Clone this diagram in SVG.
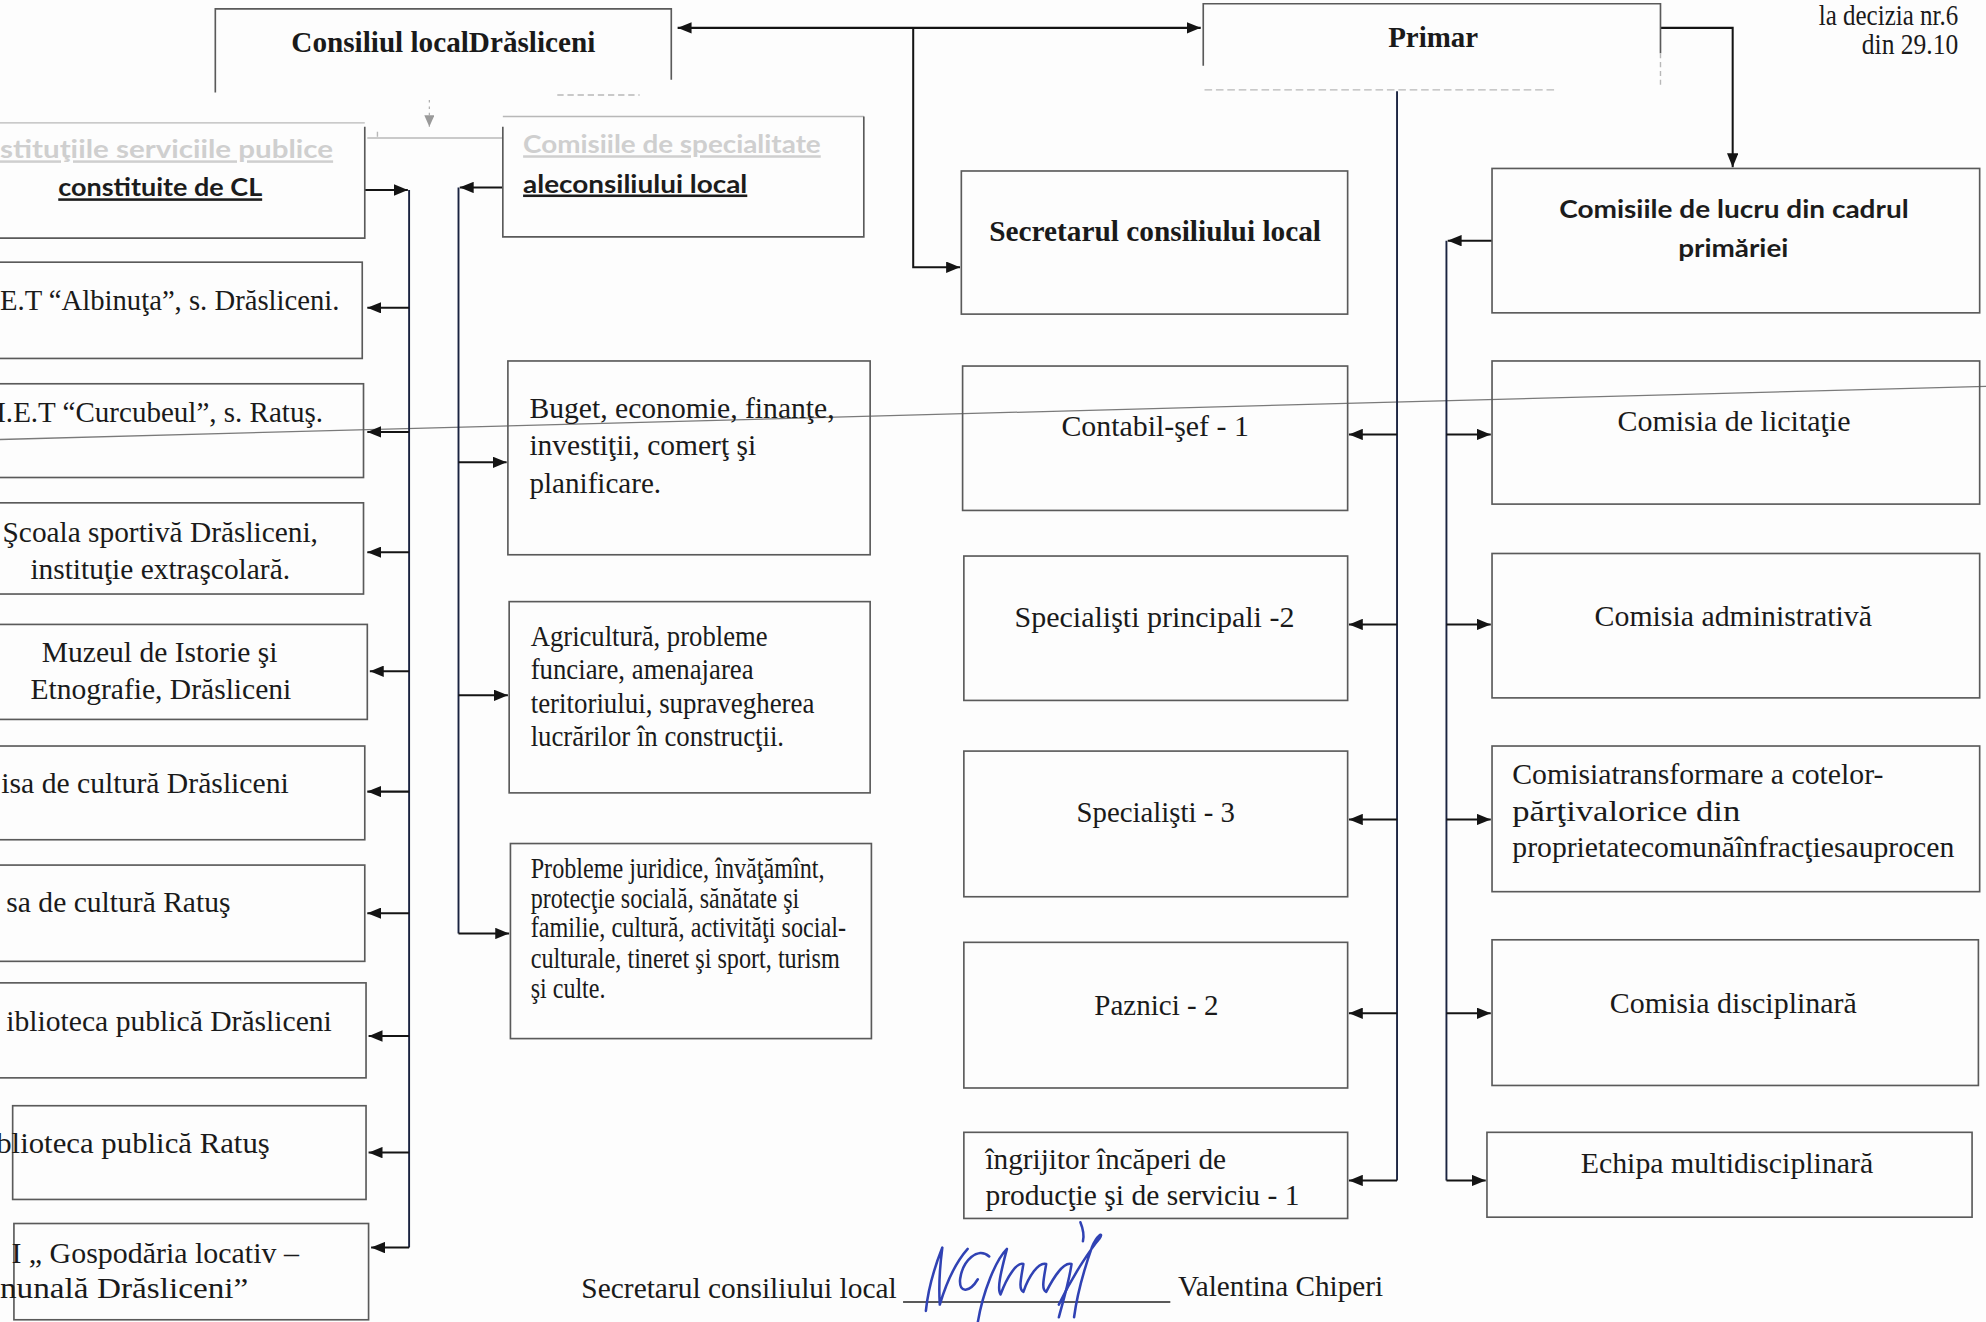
<svg xmlns="http://www.w3.org/2000/svg" width="1986" height="1322" viewBox="0 0 1986 1322">
<style>
.box{fill:none;stroke:#5a5a5a;stroke-width:1.3}
.fb{fill:none;stroke:#b8b8b8;stroke-width:1.1}
.t{font-family:"Liberation Serif","Times New Roman",serif;font-size:23px;fill:#1a1a1a}
.b{font-weight:bold}
.s{font-family:Lato,"Liberation Sans",sans-serif;font-weight:bold;font-size:20px;fill:#1c1c1c}
.u{text-decoration:underline}
.fa{fill:#cfcfcf}
.c{fill:none;stroke:#141414;stroke-width:1.6}
.sp{fill:none;stroke:#1a2340;stroke-width:1.5}
.ar{marker-end:url(#ah)}
.sig{fill:none;stroke:#3042b4;stroke-width:2;stroke-linecap:round;stroke-linejoin:round}
</style>
<defs>
<marker id="ah" markerUnits="userSpaceOnUse" markerWidth="11" markerHeight="9" refX="11" refY="4.5" orient="auto-start-reverse" viewBox="0 0 11 9"><path d="M0,0 L11,4.5 L0,9 z" fill="#141414"/></marker>
<marker id="ahf" markerUnits="userSpaceOnUse" markerWidth="9" markerHeight="8" refX="9" refY="4" orient="auto" viewBox="0 0 9 8"><path d="M0,0 L9,4 L0,8 z" fill="#9a9a9a"/></marker>
</defs>
<rect x="0" y="0" width="1986" height="1322" fill="#fdfdfd"/>
<g transform="scale(1.26658)">

<g id="artifacts">
<line x1="0" y1="347" x2="1568" y2="305" stroke="#7a7a7a" stroke-width="1"/>
<path d="M339,79 V100" fill="none" stroke="#b0b0b0" stroke-width="1" stroke-dasharray="2,3" marker-end="url(#ahf)"/>
<path d="M290,109 H397" class="fb"/>
<path d="M298,104 V108" class="fb"/>
<path d="M951,71 H1230" class="fb" stroke-dasharray="6,3"/>
<path d="M440,75 H505" class="fb" stroke-dasharray="5,3"/>
</g>

<g id="connectors">
<path class="c ar" d="M535,22 H948" marker-start="url(#ah)"/>
<path class="c ar" d="M721,22 V211 H758"/>
<path class="c ar" d="M1311,22 H1368 V132"/>
<path class="sp" d="M1103,72 V932"/>
<path class="c ar" d="M1103,343 H1065"/>
<path class="c ar" d="M1103,493 H1065"/>
<path class="c ar" d="M1103,647 H1065"/>
<path class="c ar" d="M1103,800 H1065"/>
<path class="c ar" d="M1103,932 H1065"/>
<path class="sp" d="M1142,190 V932"/>
<path class="c ar" d="M1178,190 H1143"/>
<path class="c ar" d="M1142,343 H1177"/>
<path class="c ar" d="M1142,493 H1177"/>
<path class="c ar" d="M1142,647 H1177"/>
<path class="c ar" d="M1142,800 H1177"/>
<path class="c ar" d="M1142,932 H1173"/>
<path class="c ar" d="M288,150 H322"/>
<path class="sp" d="M323,150 V985"/>
<path class="c ar" d="M323,243 H290"/>
<path class="c ar" d="M323,341 H290"/>
<path class="c ar" d="M323,436 H290"/>
<path class="c ar" d="M323,530 H292"/>
<path class="c ar" d="M323,625 H290"/>
<path class="c ar" d="M323,721 H290"/>
<path class="c ar" d="M323,818 H291"/>
<path class="c ar" d="M323,910 H291"/>
<path class="c ar" d="M323,985 H293"/>
<path class="c ar" d="M397,148 H363"/>
<path class="sp" d="M362,148 V737"/>
<path class="c ar" d="M362,365 H400"/>
<path class="c ar" d="M362,549 H401"/>
<path class="c ar" d="M362,737 H402"/>
</g>

<g id="n-consiliul">
<path class="box" d="M170,73 V7 H530 V63"/>
<text class="t b" x="230" y="41" textLength="240" lengthAdjust="spacingAndGlyphs">Consiliul localDrăsliceni</text>
</g>
<g id="n-primar">
<path class="box" d="M950,52 V3 H1311 V42"/>
<path class="fb" d="M1311,42 V68" stroke-dasharray="4,3"/>
<text class="t b" x="1096" y="37" textLength="71" lengthAdjust="spacingAndGlyphs">Primar</text>
</g>
<g id="n-note">
<text class="t" x="1436" y="20" font-size="16" textLength="110" lengthAdjust="spacingAndGlyphs">la decizia nr.6</text>
<text class="t" x="1470" y="43" font-size="16" textLength="76" lengthAdjust="spacingAndGlyphs">din 29.10</text>
</g>

<g id="n-institutii">
<path class="fb" d="M-5,97 H288"/>
<path class="box" d="M-5,188 H288 V100"/>
<text class="s u fa" x="0" y="125" font-size="19" textLength="263" lengthAdjust="spacingAndGlyphs">stituţiile serviciile publice</text>
<text class="s u" x="46" y="155" textLength="161" lengthAdjust="spacingAndGlyphs">constituite de CL</text>
</g>
<g id="n-albinuta">
<rect class="box" x="-10" y="207" width="296" height="76"/>
<text class="t" x="0" y="245" textLength="268" lengthAdjust="spacingAndGlyphs">E.T “Albinuţa”, s. Drăsliceni.</text>
</g>
<g id="n-curcubeul">
<rect class="box" x="-10" y="303" width="297" height="74"/>
<text class="t" x="-3" y="333" textLength="258" lengthAdjust="spacingAndGlyphs">I.E.T “Curcubeul”, s. Ratuş.</text>
</g>
<g id="n-scoala">
<rect class="box" x="-10" y="397" width="297" height="72"/>
<text class="t" x="2" y="428" textLength="249" lengthAdjust="spacingAndGlyphs">Şcoala sportivă Drăsliceni,</text>
<text class="t" x="24" y="457" textLength="205" lengthAdjust="spacingAndGlyphs">instituţie extraşcolară.</text>
</g>
<g id="n-muzeul">
<rect class="box" x="-10" y="493" width="300" height="75"/>
<text class="t" x="33" y="523" textLength="186" lengthAdjust="spacingAndGlyphs">Muzeul de Istorie şi</text>
<text class="t" x="24" y="552" textLength="206" lengthAdjust="spacingAndGlyphs">Etnografie, Drăsliceni</text>
</g>
<g id="n-casa-d">
<rect class="box" x="-10" y="589" width="298" height="74"/>
<text class="t" x="1" y="626" textLength="227" lengthAdjust="spacingAndGlyphs">isa de cultură Drăsliceni</text>
</g>
<g id="n-casa-r">
<rect class="box" x="-10" y="683" width="298" height="76"/>
<text class="t" x="5" y="720" textLength="177" lengthAdjust="spacingAndGlyphs">sa de cultură Ratuş</text>
</g>
<g id="n-biblioteca-d">
<rect class="box" x="-10" y="776" width="299" height="75"/>
<text class="t" x="5" y="814" textLength="257" lengthAdjust="spacingAndGlyphs">iblioteca publică Drăsliceni</text>
</g>
<g id="n-biblioteca-r">
<rect class="box" x="10" y="873" width="279" height="74"/>
<text class="t" x="-3" y="910" textLength="216" lengthAdjust="spacingAndGlyphs">blioteca publică Ratuş</text>
</g>
<g id="n-gospodaria">
<rect class="box" x="11" y="966" width="280" height="76"/>
<text class="t" x="9" y="997" textLength="227" lengthAdjust="spacingAndGlyphs">I „ Gospodăria locativ –</text>
<text class="t" x="0" y="1025" textLength="196" lengthAdjust="spacingAndGlyphs">nunală Drăsliceni”</text>
</g>

<g id="n-comisii-spec">
<path class="fb" d="M397,92 H682"/>
<path class="box" d="M397,100 V187 H682 V92"/>
<text class="s u fa" x="413" y="121" font-size="19" textLength="235" lengthAdjust="spacingAndGlyphs">Comisiile de specialitate</text>
<text class="s u" x="413" y="152" textLength="177" lengthAdjust="spacingAndGlyphs">aleconsiliului local</text>
</g>
<g id="n-buget">
<rect class="box" x="401" y="285" width="286" height="153"/>
<text class="t" x="418" y="330" textLength="241" lengthAdjust="spacingAndGlyphs">Buget, economie, finanţe,</text>
<text class="t" x="418" y="359" textLength="179" lengthAdjust="spacingAndGlyphs">investiţii, comerţ şi</text>
<text class="t" x="418" y="389" textLength="104" lengthAdjust="spacingAndGlyphs">planificare.</text>
</g>
<g id="n-agricultura">
<rect class="box" x="402" y="475" width="285" height="151"/>
<text class="t" x="419" y="510" font-size="21" textLength="187" lengthAdjust="spacingAndGlyphs">Agricultură, probleme</text>
<text class="t" x="419" y="536" font-size="21" textLength="176" lengthAdjust="spacingAndGlyphs">funciare, amenajarea</text>
<text class="t" x="419" y="563" font-size="21" textLength="224" lengthAdjust="spacingAndGlyphs">teritoriului, supravegherea</text>
<text class="t" x="419" y="589" font-size="21" textLength="200" lengthAdjust="spacingAndGlyphs">lucrărilor în construcţii.</text>
</g>
<g id="n-probleme">
<rect class="box" x="403" y="666" width="285" height="154"/>
<text class="t" x="419" y="693" font-size="19" textLength="232" lengthAdjust="spacingAndGlyphs">Probleme juridice, învăţămînt,</text>
<text class="t" x="419" y="717" font-size="19" textLength="212" lengthAdjust="spacingAndGlyphs">protecţie socială, sănătate şi</text>
<text class="t" x="419" y="740" font-size="19" textLength="249" lengthAdjust="spacingAndGlyphs">familie, cultură, activităţi social-</text>
<text class="t" x="419" y="764" font-size="19" textLength="244" lengthAdjust="spacingAndGlyphs">culturale, tineret şi sport, turism</text>
<text class="t" x="419" y="788" font-size="19" textLength="59" lengthAdjust="spacingAndGlyphs">şi culte.</text>
</g>

<g id="n-secretarul">
<rect class="box" x="759" y="135" width="305" height="113"/>
<text class="t b" x="781" y="190" textLength="262" lengthAdjust="spacingAndGlyphs">Secretarul consiliului local</text>
</g>
<g id="n-contabil">
<rect class="box" x="760" y="289" width="304" height="114"/>
<text class="t" x="838" y="344" textLength="148" lengthAdjust="spacingAndGlyphs">Contabil-şef -  1</text>
</g>
<g id="n-spec-princ">
<rect class="box" x="761" y="439" width="303" height="114"/>
<text class="t" x="801" y="495" textLength="221" lengthAdjust="spacingAndGlyphs">Specialişti principali  -2</text>
</g>
<g id="n-spec">
<rect class="box" x="761" y="593" width="303" height="115"/>
<text class="t" x="850" y="649" textLength="125" lengthAdjust="spacingAndGlyphs">Specialişti - 3</text>
</g>
<g id="n-paznici">
<rect class="box" x="761" y="744" width="303" height="115"/>
<text class="t" x="864" y="801" textLength="98" lengthAdjust="spacingAndGlyphs">Paznici - 2</text>
</g>
<g id="n-ingrijitor">
<rect class="box" x="761" y="894" width="303" height="68"/>
<text class="t" x="778" y="923" textLength="190" lengthAdjust="spacingAndGlyphs">îngrijitor încăperi de</text>
<text class="t" x="778" y="951" textLength="248" lengthAdjust="spacingAndGlyphs">producţie şi de serviciu -  1</text>
</g>

<g id="n-comisiile-lucru">
<rect class="box" x="1178" y="133" width="385" height="114"/>
<text class="s" x="1231" y="172" font-size="21" textLength="276" lengthAdjust="spacingAndGlyphs">Comisiile de lucru din cadrul</text>
<text class="s" x="1325" y="203" font-size="21" textLength="87" lengthAdjust="spacingAndGlyphs">primăriei</text>
</g>
<g id="n-licitatie">
<rect class="box" x="1178" y="285" width="385" height="113"/>
<text class="t" x="1277" y="340" textLength="184" lengthAdjust="spacingAndGlyphs">Comisia de licitaţie</text>
</g>
<g id="n-administrativa">
<rect class="box" x="1178" y="437" width="385" height="114"/>
<text class="t" x="1259" y="494" textLength="219" lengthAdjust="spacingAndGlyphs">Comisia administrativă</text>
</g>
<g id="n-transformare">
<rect class="box" x="1178" y="589" width="385" height="115"/>
<text class="t" x="1194" y="619" textLength="293" lengthAdjust="spacingAndGlyphs">Comisiatransformare a cotelor-</text>
<text class="t" x="1194" y="648" textLength="180" lengthAdjust="spacingAndGlyphs">părţivalorice din</text>
<text class="t" x="1194" y="677" textLength="349" lengthAdjust="spacingAndGlyphs">proprietatecomunăînfracţiesauprocen</text>
</g>
<g id="n-disciplinara">
<rect class="box" x="1178" y="742" width="384" height="115"/>
<text class="t" x="1271" y="800" textLength="195" lengthAdjust="spacingAndGlyphs">Comisia disciplinară</text>
</g>
<g id="n-echipa">
<rect class="box" x="1174" y="894" width="383" height="67"/>
<text class="t" x="1248" y="926" textLength="231" lengthAdjust="spacingAndGlyphs">Echipa multidisciplinară</text>
</g>

<g id="n-semnatura">
<text class="t" x="459" y="1025" textLength="249" lengthAdjust="spacingAndGlyphs">Secretarul consiliului local</text>
<line x1="713" y1="1028" x2="924" y2="1028" stroke="#222" stroke-width="1.2"/>
<path class="sig" d="M731,1035 C733,1015 740,995 744,985 C742,1000 741,1015 742,1030 C748,1010 756,995 764,986"/>
<path class="sig" d="M781,992 C772,984 760,995 758,1010 C757,1022 766,1020 772,1010"/>
<path class="sig" d="M772,1044 C776,1020 786,995 795,986 C790,1005 787,1018 790,1022 C795,1008 803,996 808,998 C806,1010 804,1018 808,1020 C812,1008 820,996 826,998 C824,1010 822,1018 826,1020 C832,1008 840,996 846,998 C844,1012 840,1025 836,1040"/>
<path class="sig" d="M836,1030 C848,1005 862,985 868,978 C872,972 866,975 862,985 C855,1005 850,1025 848,1040"/>
<path class="sig" d="M853,965 C855,970 856,976 855,980" stroke-width="1.4"/>
<text class="t" x="930" y="1023" textLength="162" lengthAdjust="spacingAndGlyphs">Valentina Chiperi</text>
</g>

</g>
</svg>
